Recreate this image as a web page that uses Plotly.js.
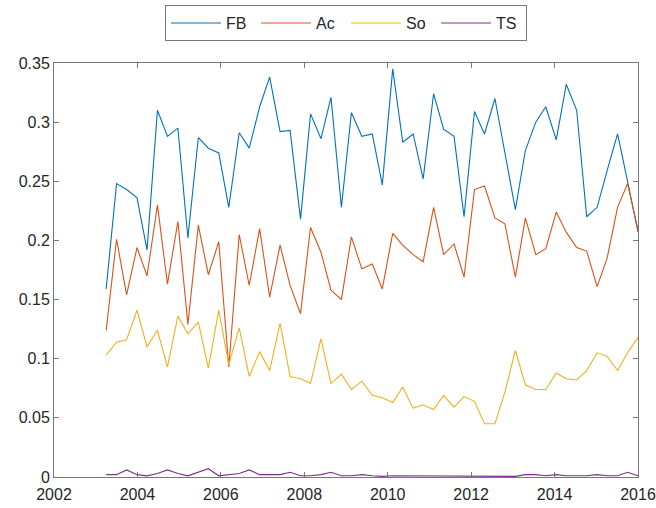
<!DOCTYPE html>
<html>
<head>
<meta charset="utf-8">
<script src="https://cdn.plot.ly/plotly-3.0.1.min.js"></script>
<style>
  html, body { margin: 0; padding: 0; background: #fff; }
  #chart { width: 656px; height: 508px; }
</style>
</head>
<body>
<div id="chart"></div>
<script>
// Time axis (decimal years)
const years = [2003.25, 2003.50, 2003.74, 2003.99, 2004.23, 2004.48, 2004.72, 2004.97, 2005.21, 2005.46,
  2005.70, 2005.95, 2006.19, 2006.44, 2006.68, 2006.93, 2007.17, 2007.42, 2007.66, 2007.91,
  2008.15, 2008.40, 2008.64, 2008.89, 2009.13, 2009.38, 2009.63, 2009.87, 2010.12, 2010.36,
  2010.61, 2010.85, 2011.10, 2011.34, 2011.59, 2011.83, 2012.08, 2012.32, 2012.57, 2012.81,
  2013.06, 2013.30, 2013.55, 2013.79, 2014.04, 2014.28, 2014.53, 2014.77, 2015.02, 2015.26,
  2015.51, 2015.75, 2016.00];

const FB = [0.159, 0.248, 0.243, 0.236, 0.192, 0.310, 0.288, 0.295, 0.202, 0.287,
  0.278, 0.274, 0.228, 0.291, 0.278, 0.313, 0.338, 0.292, 0.293, 0.218,
  0.307, 0.286, 0.321, 0.228, 0.308, 0.288, 0.290, 0.247, 0.345, 0.283,
  0.290, 0.252, 0.324, 0.294, 0.288, 0.220, 0.309, 0.290, 0.320, 0.274,
  0.226, 0.276, 0.300, 0.313, 0.285, 0.332, 0.310, 0.220, 0.228, 0.259,
  0.290, 0.250, 0.207];

const Ac = [0.124, 0.201, 0.154, 0.194, 0.170, 0.230, 0.163, 0.216, 0.129, 0.213,
  0.171, 0.199, 0.093, 0.205, 0.162, 0.210, 0.152, 0.196, 0.162, 0.138,
  0.211, 0.190, 0.158, 0.150, 0.203, 0.176, 0.180, 0.159, 0.206, 0.196,
  0.188, 0.182, 0.228, 0.188, 0.197, 0.169, 0.243, 0.246, 0.219, 0.214,
  0.169, 0.219, 0.188, 0.193, 0.224, 0.207, 0.194, 0.191, 0.161, 0.185,
  0.228, 0.248, 0.209];

const So = [0.103, 0.114, 0.116, 0.141, 0.110, 0.124, 0.093, 0.136, 0.121, 0.131,
  0.092, 0.141, 0.095, 0.126, 0.085, 0.106, 0.090, 0.130, 0.085, 0.083,
  0.079, 0.117, 0.079, 0.087, 0.074, 0.081, 0.069, 0.067, 0.063, 0.076,
  0.058, 0.061, 0.057, 0.069, 0.059, 0.068, 0.064, 0.045, 0.045, 0.072,
  0.107, 0.078, 0.074, 0.074, 0.088, 0.083, 0.082, 0.090, 0.105, 0.102,
  0.090, 0.105, 0.118];

const TS = [0.002, 0.002, 0.006, 0.002, 0.001, 0.003, 0.006, 0.003, 0.001, 0.004,
  0.007, 0.001, 0.002, 0.003, 0.006, 0.002, 0.002, 0.002, 0.004, 0.001,
  0.001, 0.002, 0.004, 0.001, 0.001, 0.002, 0.001, 0.0005, 0.001, 0.001,
  0.0005, 0.0005, 0.0005, 0.0005, 0.0005, 0.0005, 0.0005, 0.0005, 0.0005, 0.0005,
  0.0005, 0.002, 0.002, 0.001, 0.002, 0.001, 0.001, 0.001, 0.002, 0.001,
  0.001, 0.004, 0.001];

const seriesNames = ['FB', 'Ac', 'So', 'TS'];
const seriesData = [FB, Ac, So, TS];
const colors = ['#0072BD', '#D95319', '#EDB120', '#7E2F8E'];

const traces = seriesNames.map((n, i) => ({
  x: years, y: seriesData[i], name: n, type: 'scatter', mode: 'lines',
  line: { color: colors[i], width: 1.1 }
}));

const axisCommon = {
  showgrid: false, zeroline: false, showline: true, mirror: 'ticks',
  linecolor: '#777777', linewidth: 1, ticks: 'inside', ticklen: 5,
  tickcolor: '#777777', tickfont: { family: 'Liberation Sans, Arial, sans-serif', size: 16, color: '#262626' }
};

const layout = {
  width: 656, height: 508,
  margin: { l: 54, r: 18, t: 63, b: 31 },
  paper_bgcolor: '#fff', plot_bgcolor: '#fff',
  font: { family: 'Liberation Sans, Arial, sans-serif', size: 16, color: '#262626' },
  xaxis: Object.assign({}, axisCommon, { range: [2002, 2016], tick0: 2002, dtick: 2, tickformat: 'd', ticklabelstandoff: 3 }),
  yaxis: Object.assign({}, axisCommon, { range: [0, 0.35], tick0: 0, dtick: 0.05 }),
  showlegend: true,
  legend: {
    orientation: 'h', xref: 'paper', x: 0.5, xanchor: 'center',
    yref: 'container', y: 0.99, yanchor: 'top',
    bordercolor: '#777777', borderwidth: 1, bgcolor: '#fff',
    itemwidth: 50, entrywidth: 25, font: { size: 16, color: '#262626' }
  }
};

Plotly.newPlot('chart', traces, layout, { displayModeBar: false, staticPlot: true });
</script>
</body>
</html>
